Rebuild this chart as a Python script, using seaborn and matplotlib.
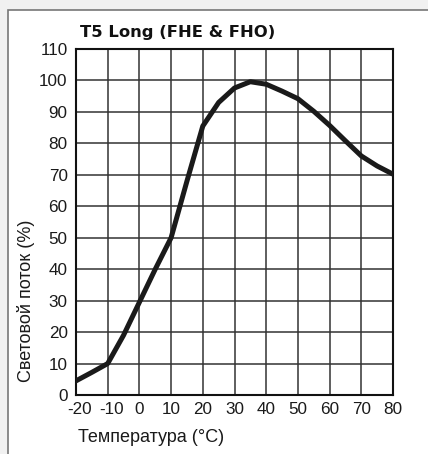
import matplotlib
matplotlib.use("Agg")
import matplotlib.pyplot as plt
import matplotlib.transforms as mtransforms
import seaborn as sns
import pandas as pd
from matplotlib.patches import Rectangle

temperature = [-20, -15, -10, -5, 0, 5, 10, 15, 20, 25, 30, 35, 40, 45, 50, 55, 60, 65, 70, 75, 80]
flux = [4.5, 7.2, 10, 19, 29.5, 40, 50, 68, 85.5, 93, 97.6, 99.6, 98.8, 96.6, 94.2, 90.2, 85.7, 80.8, 76.0, 72.8, 70.2]
x_ticks = [-20, -10, 0, 10, 20, 30, 40, 50, 60, 70, 80]
y_ticks = [0, 10, 20, 30, 40, 50, 60, 70, 80, 90, 100, 110]
title = "T5 Long (FHE & FHO)"
x_label = "Температура (°C)"
y_label = "Световой поток (%)"

df = pd.DataFrame({"t": temperature, "f": flux})

sns.set_theme(style="white")
plt.rcParams["font.family"] = ["Liberation Sans", "DejaVu Sans"]

W, H = 428, 454
fig = plt.figure(figsize=(W / 100, H / 100), dpi=100, facecolor="#f1f1f1")
frame = Rectangle((8 / W, -0.01), 1.05, 1.01 - 10 / H, transform=fig.transFigure,
                  facecolor="white", edgecolor="#777777", linewidth=1.2, zorder=-5)
fig.patches.append(frame)

ax = fig.add_axes([76 / W, 1 - 395 / H, (393 - 76) / W, (395 - 49) / H])
ax.set_zorder(2)
ax.set_facecolor("white")

sns.lineplot(data=df, x="t", y="f", ax=ax, color="#1a1a1a", linewidth=3.6, zorder=3)

ax.set_xlim(-20, 80)
ax.set_ylim(0, 110)
ax.set_xticks(x_ticks)
ax.set_yticks(y_ticks)
ax.set_xticklabels([str(v) for v in x_ticks])
ax.set_yticklabels([str(v) for v in y_ticks])
ax.tick_params(axis="both", length=0, labelsize=12.3, colors="#1a1a1a")
ax.tick_params(axis="x", pad=5)
ax.tick_params(axis="y", pad=6)
ax.grid(True, color="#333333", linewidth=1.1)
for s in ax.spines.values():
    s.set_color("#111111")
    s.set_linewidth(1.5)
ax.set_xlabel("")
ax.set_ylabel("")

# negative labels are centred on their digits in the reference
shift = mtransforms.ScaledTranslation(4 / 100, 0, fig.dpi_scale_trans)
for lab, v in zip(ax.get_xticklabels(), x_ticks):
    if v < 0:
        lab.set_transform(lab.get_transform() + shift)

fig.text(80 / W, 1 - 32 / H, title, fontsize=11.8, fontweight="bold",
         family="DejaVu Sans", ha="left", va="center", color="#111111")
fig.text(78 / W, 1 - 437 / H, x_label, fontsize=13, ha="left", va="center", color="#1a1a1a")
fig.text(26 / W, 1 - 301 / H, y_label, fontsize=13, rotation=90, ha="center", va="center",
         color="#1a1a1a")

fig.savefig("out.png", dpi=100, facecolor=fig.get_facecolor())
